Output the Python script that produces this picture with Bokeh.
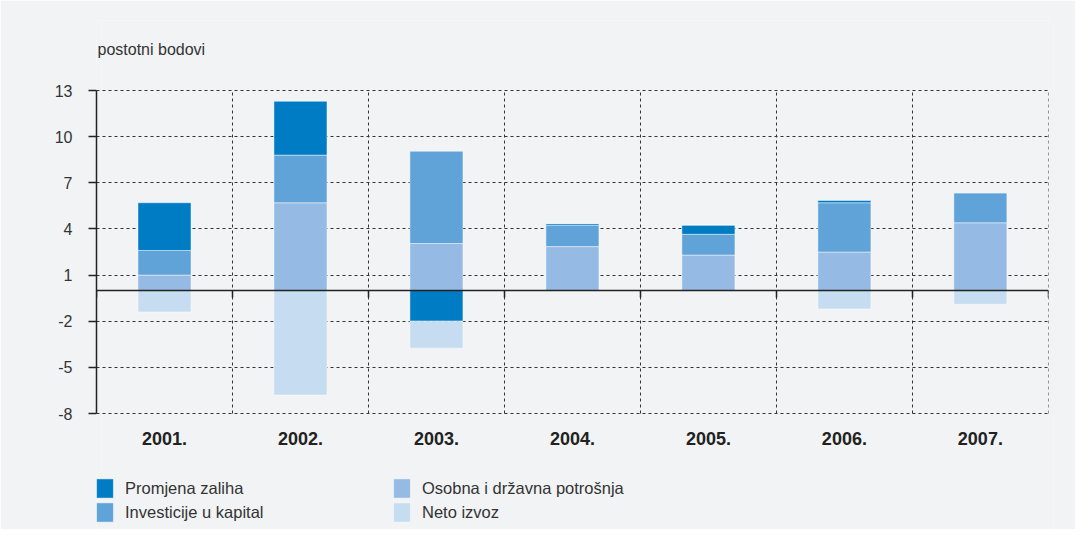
from bokeh.plotting import figure
from bokeh.models import (Range1d, LinearAxis, FixedTicker, Grid, Legend, LegendItem,
                          ColumnDataSource, Label)
from bokeh.core.properties import value
from bokeh.embed import file_html
from bokeh.resources import INLINE

# ---- data ----
years = ["2001.", "2002.", "2003.", "2004.", "2005.", "2006.", "2007."]
osobna = [1.0, 5.7, 3.05, 2.85, 2.3, 2.5, 4.4]        # Osobna i državna potrošnja
investicije = [1.6, 3.1, 6.0, 1.4, 1.35, 3.2, 1.95]   # Investicije u kapital
zaliha = [3.1, 3.5, -2.0, 0.1, 0.6, 0.15, 0.0]        # Promjena zaliha
neto = [-1.4, -6.8, -1.75, 0.0, 0.0, -1.2, -0.9]      # Neto izvoz
y_ticks = [13, 10, 7, 4, 1, -2, -5, -8]
unit_label = "postotni bodovi"

series = [
    ("Osobna i državna potrošnja", osobna, "#95BAE3"),
    ("Investicije u kapital", investicije, "#5FA3D8"),
    ("Promjena zaliha", zaliha, "#007CC4"),
    ("Neto izvoz", neto, "#C6DCF0"),
]

BG = "#F2F3F5"
FONT = "Liberation Sans"
TXT = "#333333"
GRID = "#333333"

# layout (canvas pixels)
W, H = 1075, 529
FR_TOP, FR_BOTTOM = 20, H
Y_TOP_PX, Y_BOT_PX = 90, 413
y_max, y_min = max(y_ticks), min(y_ticks)
ppu = (Y_BOT_PX - Y_TOP_PX) / (y_max - y_min)
y_hi = y_max + (Y_TOP_PX - FR_TOP) / ppu
y_lo = y_min - (FR_BOTTOM - Y_BOT_PX) / ppu
n = len(years)

p = figure(width=W, height=H, output_backend="svg", toolbar_location=None,
           x_range=Range1d(0, n + 0.001), y_range=Range1d(y_lo, y_hi),
           x_axis_location=None, y_axis_location="left",
           min_border_left=96, min_border_right=27, min_border_top=FR_TOP, min_border_bottom=0)
p.background_fill_color = BG
p.border_fill_color = BG
p.outline_line_color = None

# remove default vertical grid
for g in p.xgrid:
    g.visible = False

# horizontal grid
p.ygrid.ticker = FixedTicker(ticks=y_ticks)
p.ygrid.grid_line_color = GRID
p.ygrid.grid_line_dash = "3 3"
p.ygrid.grid_line_width = 1

# vertical grid at category boundaries
bounds_x = list(range(n + 1))
if "cross_bounds" in Grid.properties():
    vgrid = Grid(dimension=0, ticker=FixedTicker(ticks=bounds_x), cross_bounds=(y_min, y_max),
                 grid_line_color=GRID, grid_line_dash="3 3", grid_line_width=1)
    p.add_layout(vgrid)
else:
    p.segment(x0=bounds_x[1:], y0=[y_min] * n, x1=bounds_x[1:], y1=[y_max] * n,
              line_color=GRID, line_dash="3 3", line_width=1)

# y axis
ya = p.yaxis[0]
ya.bounds = (y_min, y_max)
ya.ticker = FixedTicker(ticks=y_ticks)
ya.major_label_overrides = {t: str(t) for t in y_ticks}
ya.major_tick_out = 8
ya.major_tick_in = 0
ya.minor_tick_out = 0
ya.minor_tick_in = 0
ya.axis_line_color = "#222222"
ya.axis_line_width = 1.5
ya.major_tick_line_color = "#222222"
ya.major_tick_line_width = 1.5
ya.major_label_standoff = 16
ya.major_label_text_font = FONT
ya.major_label_text_font_size = "16px"
ya.major_label_text_color = TXT

# stacked bars
centers = [i + 0.5 for i in range(n)]
pos_base = [0.0] * n
neg_base = [0.0] * n
renderers = {}
for name, vals, color in series:
    bottoms, tops = [], []
    for i, v in enumerate(vals):
        if v >= 0:
            bottoms.append(pos_base[i]); tops.append(pos_base[i] + v); pos_base[i] += v
        else:
            tops.append(neg_base[i]); bottoms.append(neg_base[i] + v); neg_base[i] += v
    src = ColumnDataSource(dict(x=centers, bottom=bottoms, top=tops))
    r = p.vbar(x="x", width=0.39, bottom="bottom", top="top", source=src,
               fill_color=color, line_color="white", line_alpha=0.45, line_width=1)
    renderers[name] = r

# zero line with boundary ticks (pointing down)
za = LinearAxis(fixed_location=0, ticker=FixedTicker(ticks=bounds_x), bounds=(0, n))
za.axis_line_color = "#222222"
za.axis_line_width = 1.5
za.major_tick_out = 0
za.major_tick_in = 7
za.minor_tick_out = 0
za.minor_tick_in = 0
za.major_tick_line_color = "#222222"
za.major_tick_line_width = 1.5
za.major_label_text_alpha = 0
za.major_label_text_font_size = "1px"
za.major_label_standoff = 0
p.add_layout(za, "above")

# category labels
lab_src = ColumnDataSource(dict(x=centers, y=[y_min] * n, t=years))
p.text(x="x", y="y", text="t", source=lab_src, y_offset=25,
       text_align="center", text_baseline="middle", text_font=value(FONT),
       text_font_size="18px", text_font_style="bold", text_color="#222222")

# unit label
p.add_layout(Label(x=0, y=FR_BOTTOM - 49, x_units="data", y_units="screen", x_offset=1,
                   text=unit_label, text_baseline="middle", text_align="left",
                   text_font=FONT, text_font_size="16px", text_color=TXT))

order = ["Promjena zaliha", "Investicije u kapital", "Osobna i državna potrošnja", "Neto izvoz"]
legend = Legend(items=[LegendItem(label=nm, renderers=[renderers[nm]]) for nm in order],
                orientation="vertical", nrows=2, location=(-2, 5),
                glyph_width=21, glyph_height=24, spacing=0, label_standoff=10, label_width=266,
                label_height=20,
                label_text_font=FONT, label_text_font_size="16.5px", label_text_color=TXT,
                background_fill_alpha=0, border_line_color=None, margin=0, padding=0)
p.add_layout(legend, "center")

open("out.html", "w").write(file_html(p, INLINE))
